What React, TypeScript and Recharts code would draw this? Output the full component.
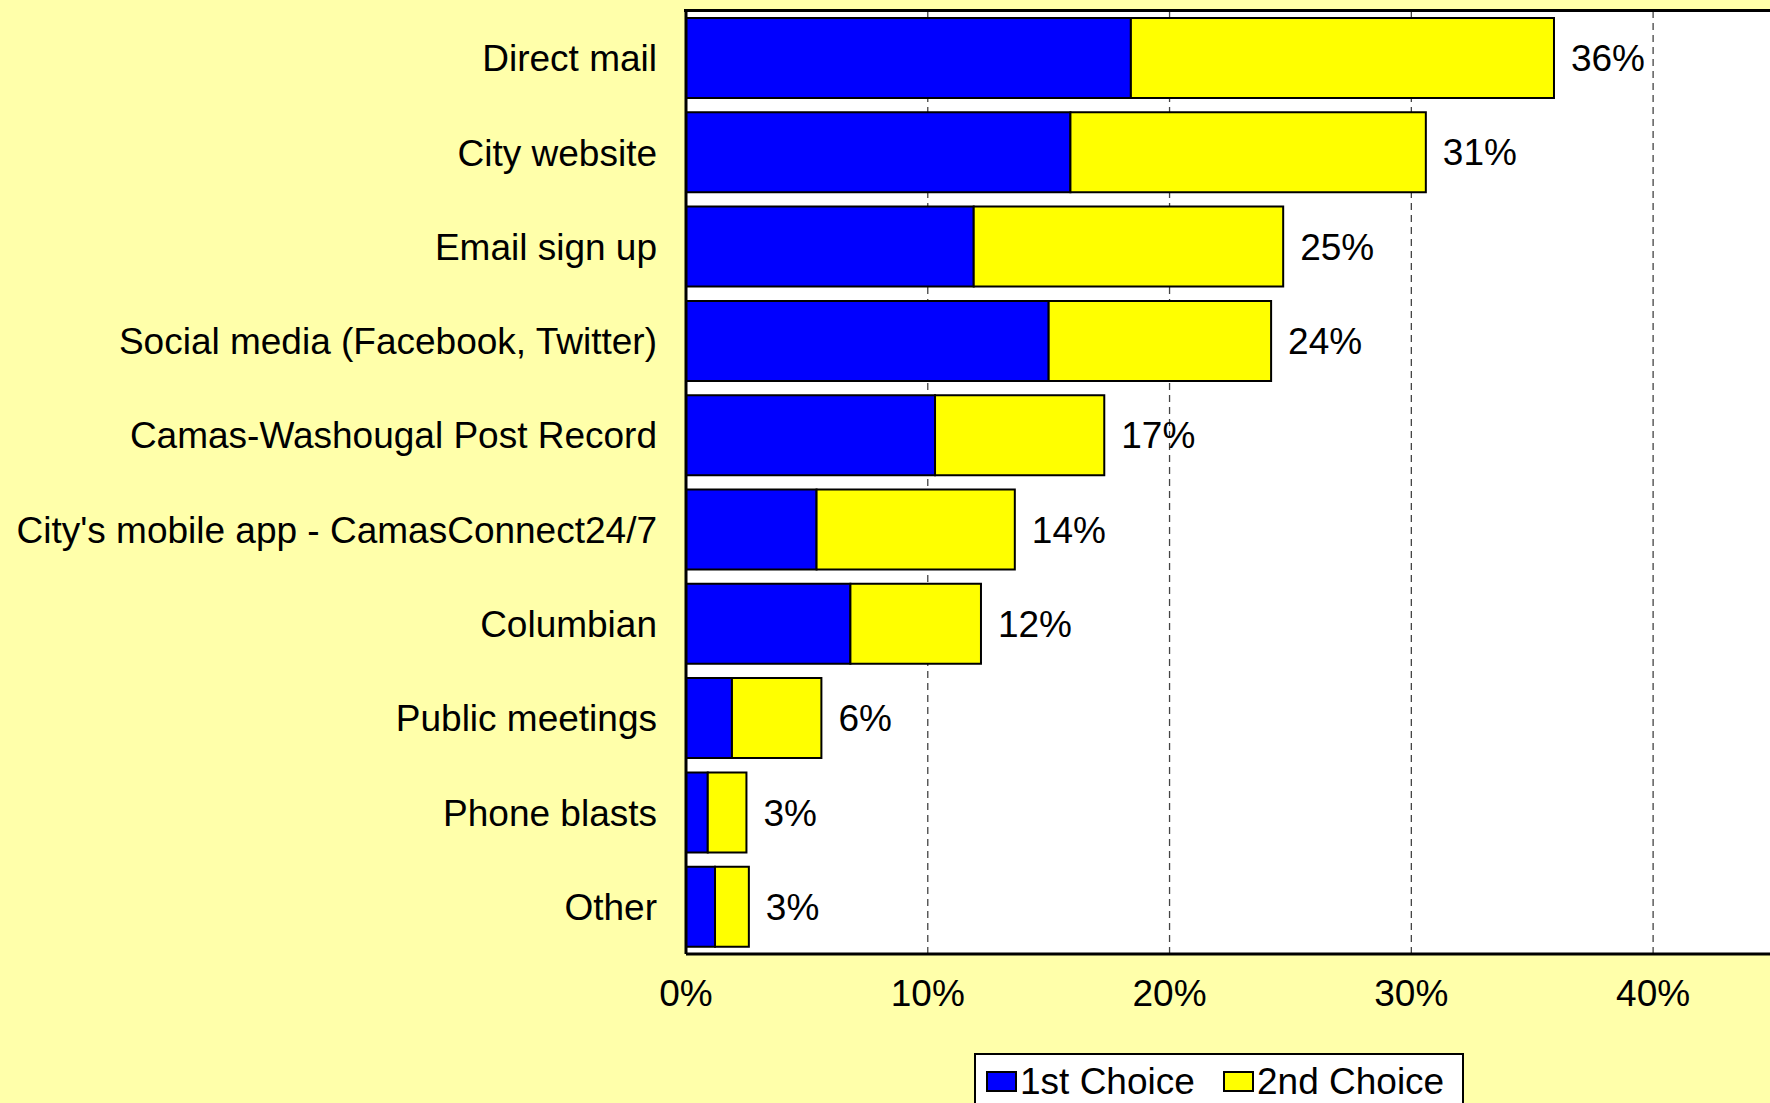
import React from "react";
import { BarChart, Bar, XAxis, YAxis, CartesianGrid, LabelList } from "recharts";

const categories = [
  "Direct mail",
  "City website",
  "Email sign up",
  "Social media (Facebook, Twitter)",
  "Camas-Washougal Post Record",
  "City's mobile app - CamasConnect24/7",
  "Columbian",
  "Public meetings",
  "Phone blasts",
  "Other",
];
const firstChoice = [18.4, 15.9, 11.9, 15.0, 10.3, 5.4, 6.8, 1.9, 0.9, 1.2];
const secondChoice = [17.5, 14.7, 12.8, 9.2, 7.0, 8.2, 5.4, 3.7, 1.6, 1.4];
const totalLabels = ["36%", "31%", "25%", "24%", "17%", "14%", "12%", "6%", "3%", "3%"];
const xTicks = [0, 10, 20, 30, 40];
const seriesNames = ["1st Choice", "2nd Choice"];

const data = categories.map((name, i) => ({
  name,
  first: firstChoice[i],
  second: secondChoice[i],
  label: totalLabels[i],
}));

const FONT = "'Liberation Sans', Arial, sans-serif";
const BG = "#FFFFAA";
const FS = 37;

export default function App() {
  return (
    <div
      style={{
        position: "fixed",
        left: 0,
        top: 0,
        width: 1770,
        height: 1103,
        overflow: "hidden",
        background: BG,
        fontFamily: FONT,
      }}
    >
      <BarChart
        width={1774}
        height={1103}
        data={data}
        layout="vertical"
        margin={{ top: 11, right: 0, bottom: 0, left: 0 }}
        style={{ fontFamily: FONT }}
      >
        <CartesianGrid
          horizontal={false}
          vertical={true}
          fill="#FFFFFF"
          stroke="#444444"
          strokeWidth={1.3}
          strokeDasharray="7 5"
        />
        <XAxis
          type="number"
          domain={[0, 45]}
          ticks={xTicks}
          allowDataOverflow
          height={149}
          tickLine={false}
          tickSize={0}
          tickMargin={26}
          tickFormatter={(v: number) => `${v}%`}
          axisLine={{ stroke: "#000", strokeWidth: 3 }}
          tick={{ fill: "#000", fontSize: FS, fontFamily: FONT }}
        />
        <YAxis
          type="category"
          dataKey="name"
          width={686}
          tickLine={false}
          tickSize={0}
          tickMargin={29}
          interval={0}
          axisLine={{ stroke: "#000", strokeWidth: 3 }}
          tick={{ fill: "#000", fontSize: FS, fontFamily: FONT }}
        />
        <Bar
          dataKey="first"
          name={seriesNames[0]}
          stackId="a"
          fill="#0000FF"
          stroke="#000"
          strokeWidth={2}
          barSize={80}
          isAnimationActive={false}
        />
        <Bar
          dataKey="second"
          name={seriesNames[1]}
          stackId="a"
          fill="#FFFF00"
          stroke="#000"
          strokeWidth={2}
          barSize={80}
          isAnimationActive={false}
        >
          <LabelList
            dataKey="label"
            position="right"
            offset={17}
            fill="#000"
            fontSize={FS}
            fontFamily={FONT}
          />
        </Bar>
      </BarChart>
      <div
        style={{
          position: "absolute",
          left: 684,
          top: 9,
          width: 1100,
          height: 3,
          background: "#000",
        }}
      />
      <div
        style={{
          position: "absolute",
          left: 974,
          top: 1053,
          width: 490,
          height: 80,
          boxSizing: "border-box",
          border: "2px solid #000",
          background: "#FFFFFF",
        }}
      >
        <div
          style={{
            position: "absolute",
            left: 10,
            top: 16,
            width: 31,
            height: 21,
            boxSizing: "border-box",
            border: "2px solid #000",
            background: "#0000FF",
          }}
        />
        <div
          style={{
            position: "absolute",
            left: 44,
            top: 9,
            fontSize: FS,
            lineHeight: "36px",
            color: "#000",
            whiteSpace: "nowrap",
          }}
        >
          {seriesNames[0]}
        </div>
        <div
          style={{
            position: "absolute",
            left: 247,
            top: 16,
            width: 31,
            height: 21,
            boxSizing: "border-box",
            border: "2px solid #000",
            background: "#FFFF00",
          }}
        />
        <div
          style={{
            position: "absolute",
            left: 281,
            top: 9,
            fontSize: FS,
            lineHeight: "36px",
            color: "#000",
            whiteSpace: "nowrap",
          }}
        >
          {seriesNames[1]}
        </div>
      </div>
    </div>
  );
}
